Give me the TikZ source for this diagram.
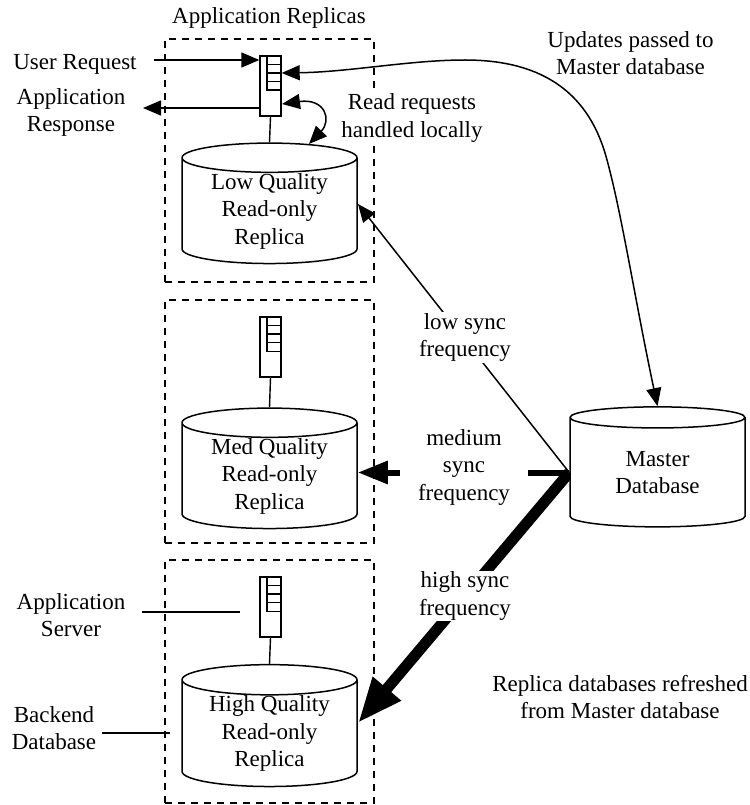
\documentclass[tikz,border=0pt]{standalone}
\usepackage{fontspec}
\setmainfont{Liberation Serif}
\usetikzlibrary{arrows.meta,backgrounds,shapes.geometric,shapes.multipart}
\tikzset{
  txt/.style={align=center,inner sep=0pt,font=\fontsize{23}{27.5}\selectfont},
  gaptxt/.style={txt,fill=white,inner xsep=6pt,inner ysep=1pt},
  db/.style={draw,fill=white,line width=1.5pt,cylinder,shape border rotate=90,aspect=0.25,
    minimum width=175pt,minimum height=119pt,inner sep=0pt,
    align=center,font=\fontsize{23}{27.5}\selectfont},
  appbox/.style={draw,line width=1.3pt,dash pattern=on 7pt off 6pt,minimum width=209pt,minimum height=243pt},
  server/.style={draw,line width=1.4pt,minimum width=21pt,minimum height=60pt,inner sep=0pt},
  queue/.style={draw,line width=1.4pt,rectangle split,rectangle split parts=4,
    rectangle split empty part height=5pt,minimum width=14pt,inner sep=1.1pt},
  thin arrow/.style={line width=1.5pt,-{Triangle[length=18pt,width=15pt]}},
  both arrow/.style={line width=1.5pt,{Triangle[length=18pt,width=15pt]}-{Triangle[length=18pt,width=15pt]}},
}
\begin{document}
\begin{tikzpicture}[x=1pt,y=-1pt]
      \useasboundingbox (0,0) rectangle (749,805);
      \draw
        (269.5,160.5) node[appbox] (box1){}
        (269.5,421.5) node[appbox] (box2){}
        (269.5,681.5) node[appbox] (box3){}
        (270.5,86) node[server] (server1){}
        (270.5,347) node[server] (server2){}
        (270.5,607) node[server] (server3){}
        (269.5,211) node[db,minimum height=117pt] (low){Low Quality\\Read-only\\Replica}
        (269.5,476) node[db,minimum height=117pt] (med){Med Quality\\Read-only\\Replica}
        (269.5,733.5) node[db,minimum height=120pt] (high){High Quality\\Read-only\\Replica}
        (657.5,472.5) node[db,minimum height=120pt] (master){Master\\Database};
      \draw
        (274,73) node[queue] (queue1){}
        (274,334) node[queue] (queue2){}
        (274,594) node[queue] (queue3){};
      \coordinate (reqstart) at (154,60);
      \coordinate (respend) at (143,108);
      \coordinate (srvstart) at (142,612);
      \coordinate (srvend) at (240,612);
      \coordinate (dbstart) at (102,733);
      \coordinate (dbend) at (170,733);
      \coordinate (readout) at (282,104);
      \coordinate (readin) at (309,144);
      \coordinate (lowtip) at (358,204);
      \coordinate (hightip) at (358,723);
      \begin{scope}[line width=1.4pt]
        \draw (server1.south) to (low.top);
        \draw (server2.south) to (med.top);
        \draw (server3.south) to (high.top);
        \draw (srvstart) to (srvend);
        \draw (dbstart) to (dbend);
      \end{scope}
      \begin{scope}[thin arrow]
        \draw (reqstart) to (reqstart -| server1.west);
        \draw (respend -| server1.west) to (respend);
        \draw[both arrow] (readout) .. controls (325,98) and (332,120) .. (readin);
        \draw[both arrow] (queue1.east) .. controls (350,72) and (410,60) .. (465,60)
          .. controls (545,60) and (590,95) .. (607,160)
          .. controls (622,215) and (635,300) .. (master.top);
      \end{scope}
      \begin{scope}[on background layer]
        \draw[thin arrow] (master.west) to (lowtip);
        \draw[line width=6pt,-{Triangle[length=30pt,width=22pt]}] (master.west) to (med.east |- master.west);
        \draw[line width=11pt,-{Triangle[length=45pt,width=34pt]}] (master.west) to (hightip);
      \end{scope}
      \draw
        (269,18) node[txt] (replicas){Application Replicas}
        (75,64) node[txt] (request){User Request}
        (71,112.5) node[txt] (response){Application\\Response}
        (71,615) node[txt] (appserver){Application\\Server}
        (54,728) node[txt] (backend){Backend\\Database}
        (630.5,53) node[txt] (updates){Updates passed to\\Master database}
        (620,697) node[txt] (refreshed){Replica databases refreshed\\from Master database}
        (412,118) node[gaptxt,inner xsep=2pt,inner ysep=0pt] (local){Read requests\\handled locally}
        (465,337.5) node[gaptxt] (lowsync){low sync\\frequency}
        (464,467) node[gaptxt,inner xsep=18pt] (medsync){medium\\sync\\frequency}
        (465,596) node[gaptxt] (highsync){high sync\\frequency};
    \end{tikzpicture}
\end{document}
